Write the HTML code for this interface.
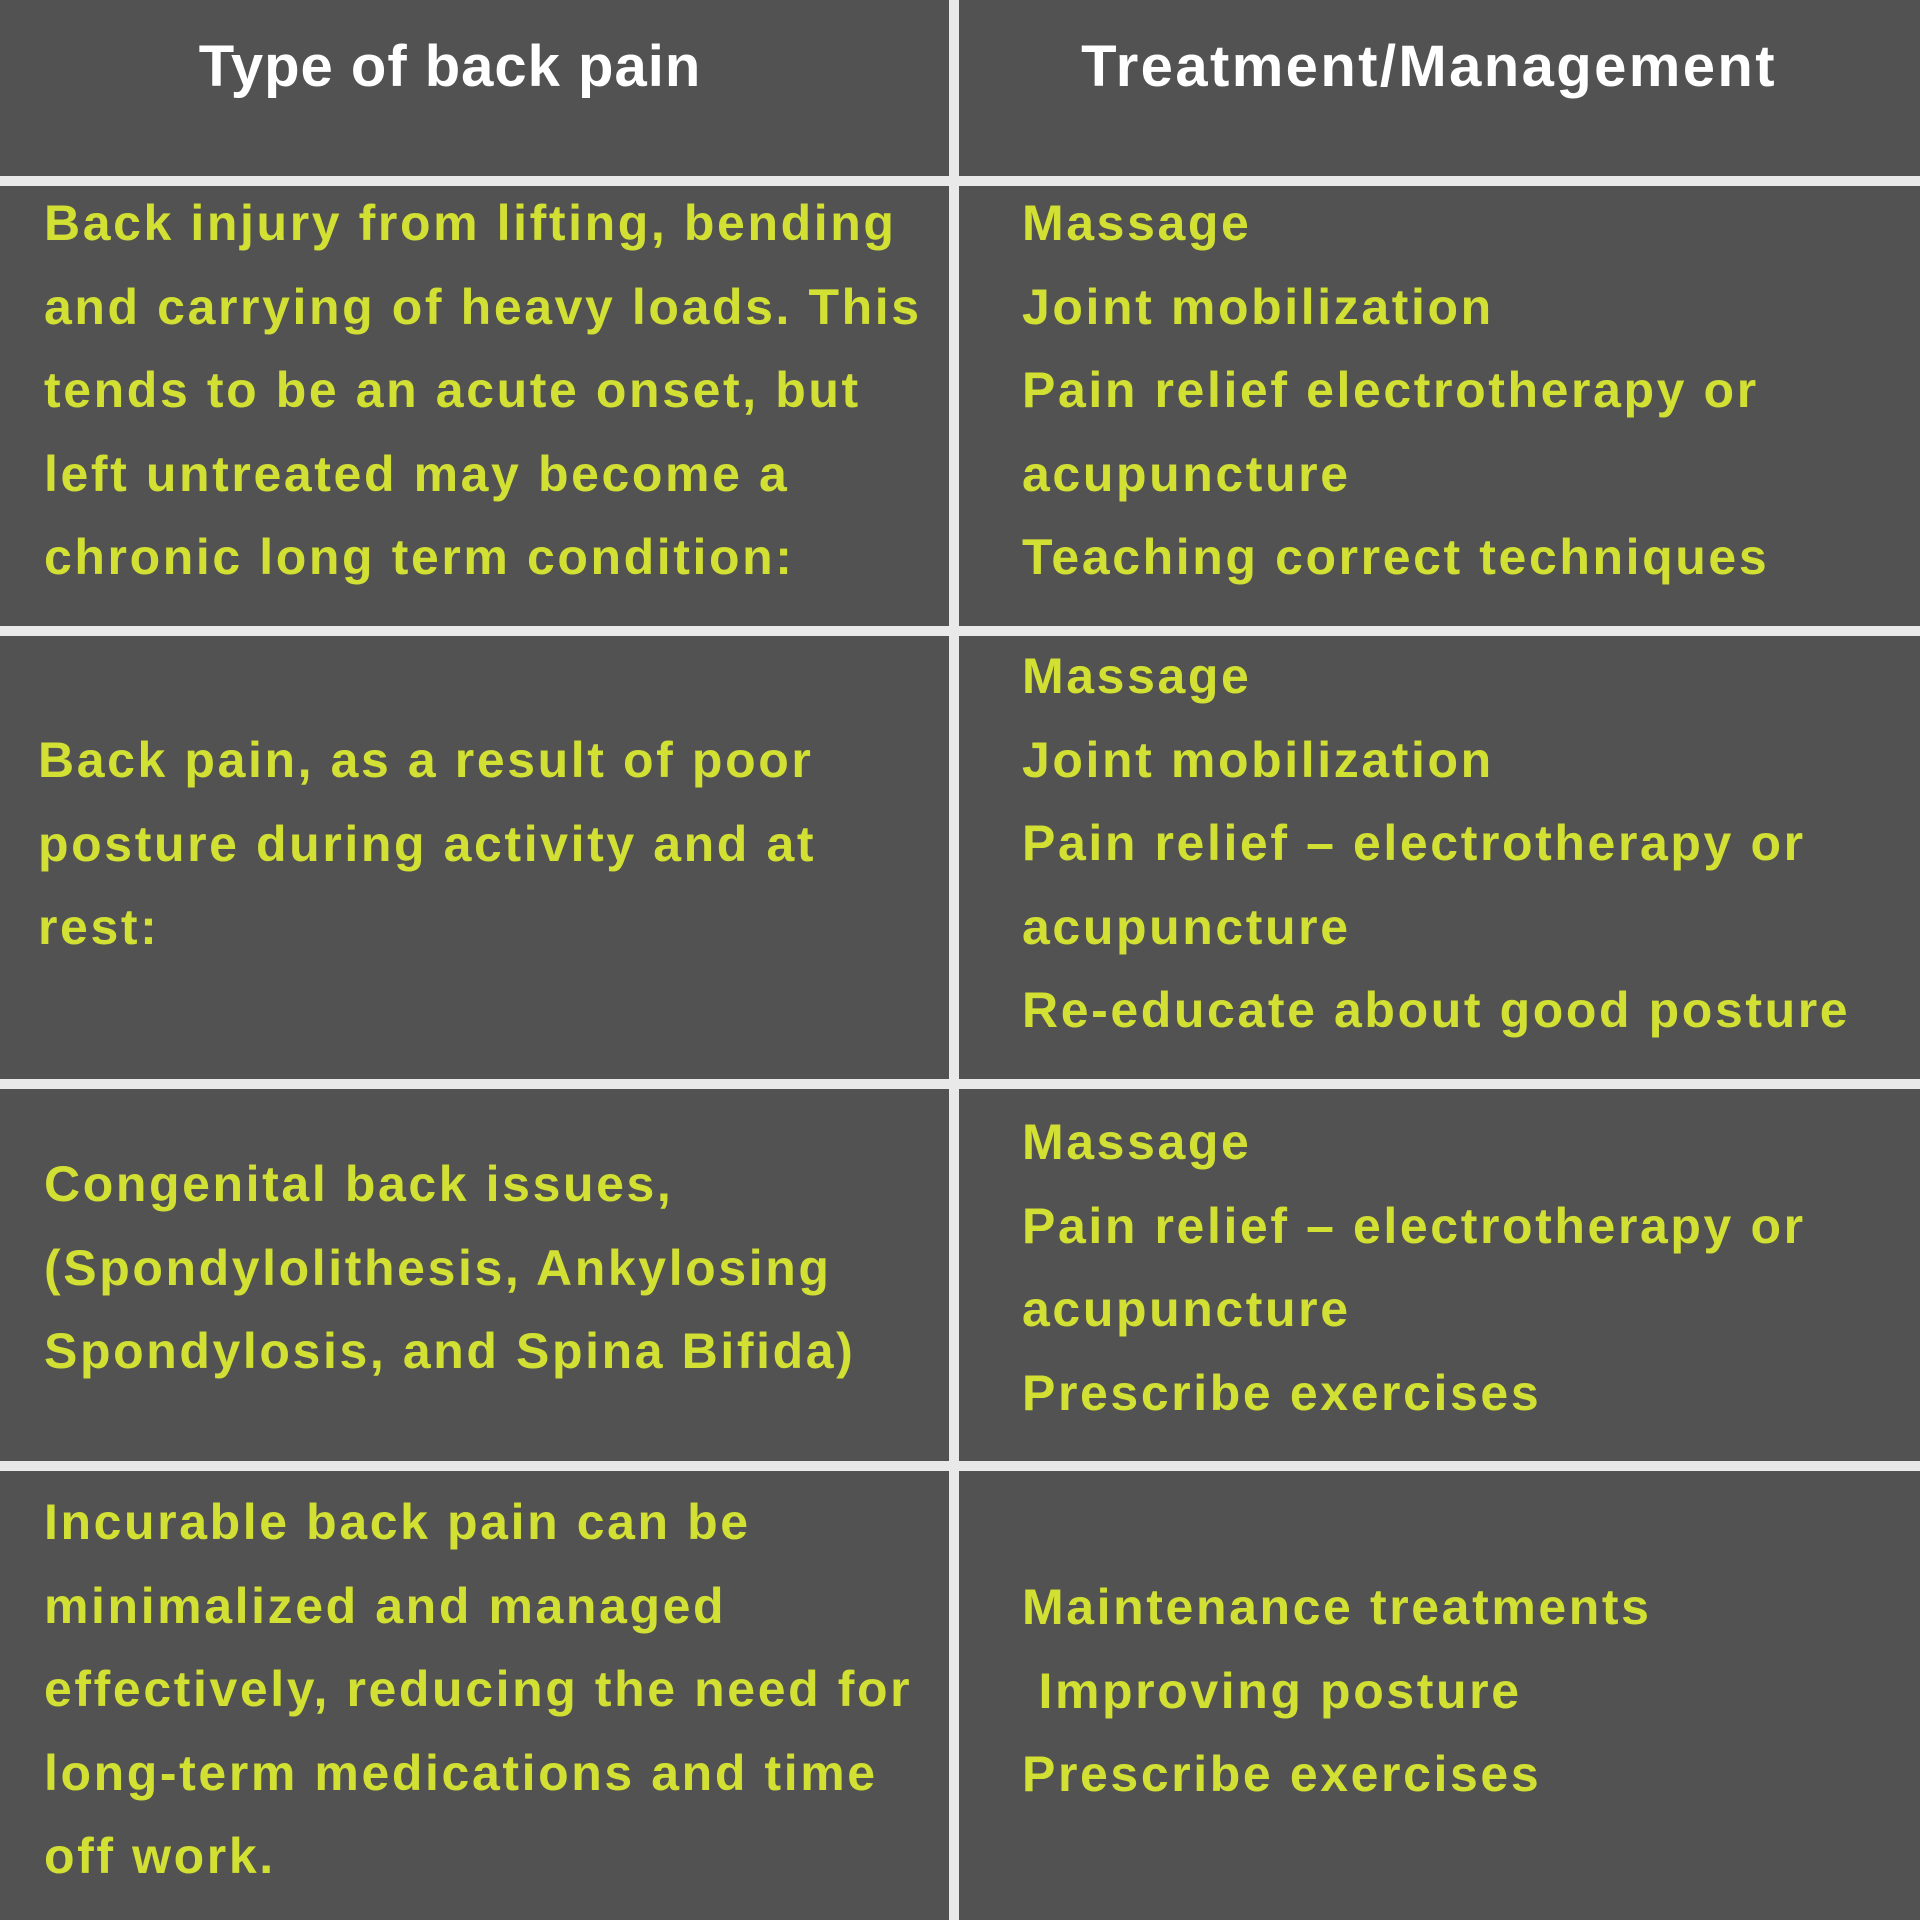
<!DOCTYPE html>
<html><head><meta charset="utf-8"><style>
body{margin:0;width:1920px;height:1920px;background:#525252;position:relative;overflow:hidden;font-family:"Liberation Sans",sans-serif;}
.h{position:absolute;left:0;width:1920px;height:10px;background:#e9e9e9;}
.v{position:absolute;top:0;left:949px;width:10px;height:1920px;background:#e9e9e9;}
.hd{position:absolute;top:30px;color:#fff;font-weight:bold;font-size:58px;text-align:center;line-height:74px;letter-spacing:1px;}
.t{position:absolute;color:#d2df33;font-weight:bold;font-size:50px;line-height:83.6px;letter-spacing:2.6px;white-space:pre;}
</style></head><body>
<div class="v"></div>
<div class="h" style="top:176px"></div>
<div class="h" style="top:626px"></div>
<div class="h" style="top:1079px"></div>
<div class="h" style="top:1461px"></div>
<div class="hd" style="left:0;width:900px">Type of back pain</div>
<div class="hd" style="left:959px;width:940px;letter-spacing:2.4px">Treatment/Management</div>

<div class="t" style="left:44px;top:182px">Back injury from lifting, bending
and carrying of heavy loads. This
tends to be an acute onset, but
left untreated may become a
chronic long term condition:</div>
<div class="t" style="left:1022px;top:182px">Massage
Joint mobilization
Pain relief electrotherapy or
acupuncture
Teaching correct techniques</div>

<div class="t" style="left:38px;top:719px">Back pain, as a result of poor
posture during activity and at
rest:</div>
<div class="t" style="left:1022px;top:635px">Massage
Joint mobilization
Pain relief – electrotherapy or
acupuncture
Re-educate about good posture</div>

<div class="t" style="left:44px;top:1143px">Congenital back issues,
(Spondylolithesis, Ankylosing
Spondylosis, and Spina Bifida)</div>
<div class="t" style="left:1022px;top:1101px">Massage
Pain relief – electrotherapy or
acupuncture
Prescribe exercises</div>

<div class="t" style="left:44px;top:1481px">Incurable back pain can be
minimalized and managed
effectively, reducing the need for
long-term medications and time
off work.</div>
<div class="t" style="left:1022px;top:1566px">Maintenance treatments
 Improving posture
Prescribe exercises</div>
</body></html>
